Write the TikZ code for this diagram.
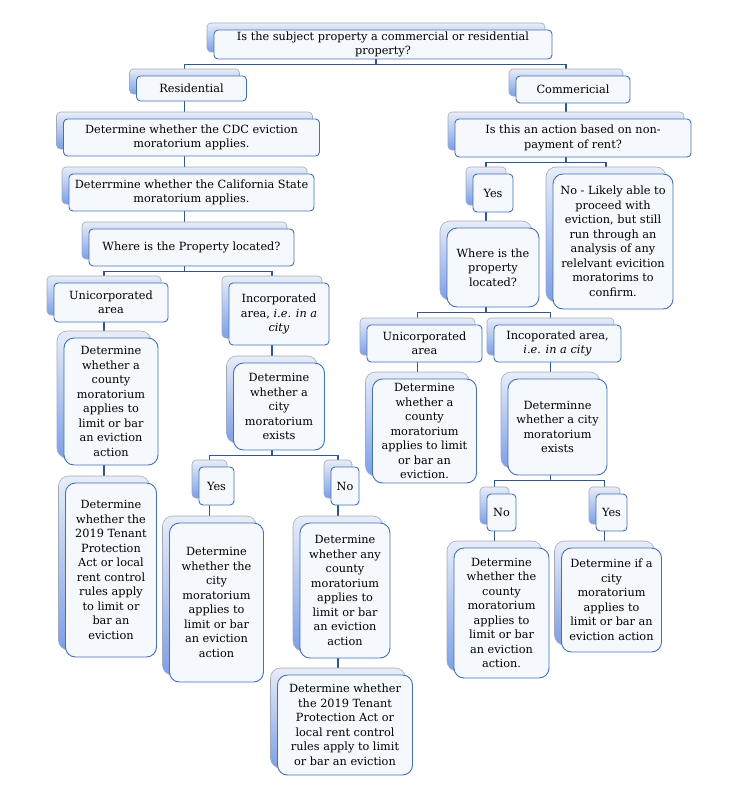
\documentclass[tikz,border=0pt]{standalone}
\usepackage{fontspec}
\setmainfont{DejaVu Serif}
\usetikzlibrary{backgrounds}

\definecolor{boxblue}{HTML}{4070BE}
\definecolor{linkblue}{HTML}{2F5597}
\definecolor{boxfill}{HTML}{F5F8FD}
\definecolor{backgray}{HTML}{A3AAB5}
\definecolor{backtop}{HTML}{E8EDF7}
\definecolor{backbot}{HTML}{7C9FE8}

\tikzset{
  box/.style={draw=boxblue, line width=0.9pt, fill=boxfill, rounded corners=4pt,
    align=center, inner sep=1pt, font=\fontsize{11.3pt}{14.5pt}\selectfont,
    preaction={draw=backgray, line width=0.6pt, top color=backtop, bottom color=backbot,
      transform canvas={shift={(-7pt,7pt)}}}},
  tall/.style={box, rounded corners=10pt},
  link/.style={draw=linkblue, line width=1.4pt},
}

\begin{document}
\begin{tikzpicture}[x=1pt, y=-1pt]
  \useasboundingbox (0,0) rectangle (738,792);
  % top question
  \node[box, minimum width=338pt, minimum height=29pt] (Q) at (383,44.5) {Is the subject property a commercial or residential\\property?};
  \node[box, minimum width=110pt, minimum height=25pt] (Res) at (191.5,88.5) {Residential};
  \node[box, minimum width=114pt, minimum height=27pt] (Com) at (573,89.5) {Commericial};
  % residential branch
  \node[box, minimum width=256pt, minimum height=37pt] (CDC) at (191.5,137.5) {Determine whether the CDC eviction\\moratorium applies.};
  \node[box, minimum width=245pt, minimum height=37pt] (Cal) at (191.5,192.5) {Deterrmine whether the California State\\moratorium applies.};
  \node[box, minimum width=205pt, minimum height=37pt] (WhereL) at (191.5,247.5) {Where is the Property located?};
  \node[box, minimum width=114pt, minimum height=39pt] (UnL) at (111,302.5) {Unicorporated\\area};
  \node[box, minimum width=100pt, minimum height=62pt] (IncL) at (279,314) {Incorporated\\area, \textit{i.e. in a}\\\textit{city}};
  \node[tall, minimum width=94pt, minimum height=127pt] (CntyL) at (111,401.5) {Determine\\whether a\\county\\moratorium\\applies to\\limit or bar\\an eviction\\action};
  \node[tall, minimum width=91pt, minimum height=87pt] (CityL) at (279,406.5) {Determine\\whether a\\city\\moratorium\\exists};
  \node[tall, minimum width=91pt, minimum height=174pt] (TpaL) at (111,570) {Determine\\whether the\\2019 Tenant\\Protection\\Act or local\\rent control\\rules apply\\to limit or\\bar an\\eviction};
  \node[box, minimum width=35pt, minimum height=38pt] (YesL) at (216.5,486) {Yes};
  \node[box, minimum width=28pt, minimum height=38pt] (NoL) at (345,486) {No};
  \node[tall, minimum width=94pt, minimum height=159pt] (CityApL) at (216.5,602.5) {Determine\\whether the\\city\\moratorium\\applies to\\limit or bar\\an eviction\\action};
  \node[tall, minimum width=90pt, minimum height=135pt] (AnyL) at (345,590.5) {Determine\\whether any\\county\\moratorium\\applies to\\limit or bar\\an eviction\\action};
  \node[tall, minimum width=135pt, minimum height=100pt] (Tpa2) at (345,725) {Determine whether\\the 2019 Tenant\\Protection Act or\\local rent control\\rules apply to limit\\or bar an eviction};
  % commercial branch
  \node[box, minimum width=236pt, minimum height=38pt] (NonPay) at (573,138) {Is this an action based on non-\\payment of rent?};
  \node[box, minimum width=40pt, minimum height=38pt] (YesR) at (493,193) {Yes};
  \node[tall, minimum width=120pt, minimum height=135pt] (NoLik) at (613,241.5) {No - Likely able to\\proceed with\\eviction, but still\\run through an\\analysis of any\\relelvant evicition\\moratorims to\\confirm.};
  \node[tall, minimum width=92pt, minimum height=79pt] (WhereR) at (493,267.5) {Where is the\\property\\located?};
  \node[box, minimum width=115pt, minimum height=37pt] (UnR) at (424.5,343.5) {Unicorporated\\area};
  \node[box, minimum width=127pt, minimum height=37pt] (IncR) at (557.5,343.5) {Incoporated area,\\\textit{i.e. in a city}};
  \node[tall, minimum width=104pt, minimum height=104pt] (CntyR) at (424.5,431) {Determine\\whether a\\county\\moratorium\\applies to limit\\or bar an\\eviction.};
  \node[tall, minimum width=99pt, minimum height=96pt] (CityR) at (557.5,427) {Determinne\\whether a city\\moratorium\\exists};
  \node[box, minimum width=29pt, minimum height=37pt] (NoR) at (501.5,512.5) {No};
  \node[box, minimum width=31pt, minimum height=37pt] (YesR2) at (611.5,512.5) {Yes};
  \node[tall, minimum width=95pt, minimum height=130pt] (CntyR2) at (501.5,613) {Determine\\whether the\\county\\moratorium\\applies to\\limit or bar\\an eviction\\action.};
  \node[tall, minimum width=100pt, minimum height=104pt] (CityR2) at (611.5,600) {Determine if a\\city\\moratorium\\applies to\\limit or bar an\\eviction action};

  \begin{scope}[on background layer]
    \draw[link] ([xshift=-7pt]Q.south) -- ++(0,5) -| ([xshift=-7pt]Res.north);
    \draw[link] ([xshift=-7pt]Q.south) -- ++(0,5) -| ([xshift=-7pt]Com.north);
    \draw[link] ([xshift=-7pt]Res.south) -- ([xshift=-7pt]CDC.north);
    \draw[link] ([xshift=-7pt]CDC.south) -- ([xshift=-7pt]Cal.north);
    \draw[link] ([xshift=-7pt]Cal.south) -- ([xshift=-7pt]WhereL.north);
    \draw[link] ([xshift=-7pt]WhereL.south) -- ++(0,5) -| ([xshift=-7pt]UnL.north);
    \draw[link] ([xshift=-7pt]WhereL.south) -- ++(0,5) -| ([xshift=-7pt]IncL.north);
    \draw[link] ([xshift=-7pt]UnL.south) -- ([xshift=-7pt]CntyL.north);
    \draw[link] ([xshift=-7pt]CntyL.south) -- ([xshift=-7pt]TpaL.north);
    \draw[link] ([xshift=-7pt]IncL.south) -- ([xshift=-7pt]CityL.north);
    \draw[link] ([xshift=-7pt]CityL.south) -- ++(0,5) -| ([xshift=-7pt]YesL.north);
    \draw[link] ([xshift=-7pt]CityL.south) -- ++(0,5) -| ([xshift=-7pt]NoL.north);
    \draw[link] ([xshift=-7pt]YesL.south) -- ([xshift=-7pt]CityApL.north);
    \draw[link] ([xshift=-7pt]NoL.south) -- ([xshift=-7pt]AnyL.north);
    \draw[link] ([xshift=-7pt]AnyL.south) -- ([xshift=-7pt]Tpa2.north);
    \draw[link] ([xshift=-7pt]Com.south) -- ([xshift=-7pt]NonPay.north);
    \draw[link] ([xshift=-7pt]NonPay.south) -- ++(0,5) -| ([xshift=-7pt]YesR.north);
    \draw[link] ([xshift=-7pt]NonPay.south) -- ++(0,5) -| ([xshift=-7pt]NoLik.north);
    \draw[link] ([xshift=-7pt]YesR.south) -- ([xshift=-7pt]WhereR.north);
    \draw[link] ([xshift=-7pt]WhereR.south) -- ++(0,5) -| ([xshift=-7pt]UnR.north);
    \draw[link] ([xshift=-7pt]WhereR.south) -- ++(0,5) -| ([xshift=-7pt]IncR.north);
    \draw[link] ([xshift=-7pt]UnR.south) -- ([xshift=-7pt]CntyR.north);
    \draw[link] ([xshift=-7pt]IncR.south) -- ([xshift=-7pt]CityR.north);
    \draw[link] ([xshift=-7pt]CityR.south) -- ++(0,5) -| ([xshift=-7pt]NoR.north);
    \draw[link] ([xshift=-7pt]CityR.south) -- ++(0,5) -| ([xshift=-7pt]YesR2.north);
    \draw[link] ([xshift=-7pt]NoR.south) -- ([xshift=-7pt]CntyR2.north);
    \draw[link] ([xshift=-7pt]YesR2.south) -- ([xshift=-7pt]CityR2.north);
  \end{scope}
\end{tikzpicture}
\end{document}
